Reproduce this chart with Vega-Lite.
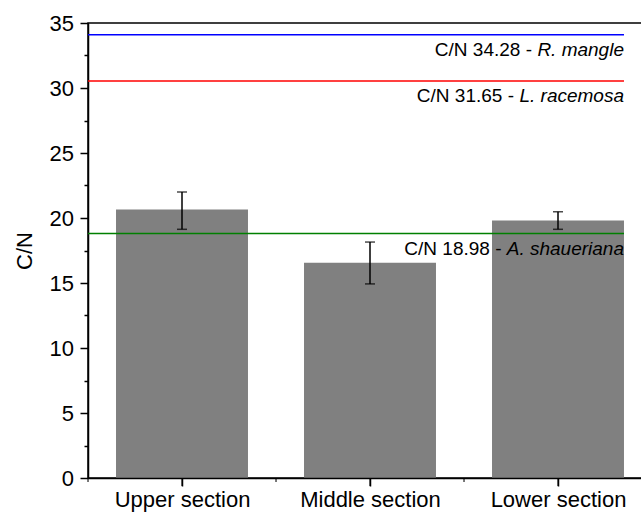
{
  "$schema": "https://vega.github.io/schema/vega-lite/v6.json",
  "width": 564,
  "height": 455,
  "autosize": {"type": "none"},
  "padding": {"left": 88, "top": 23, "right": -11, "bottom": 38},
  "background": "white",
  "view": {"stroke": "black", "strokeWidth": 1.5},
  "config": {
    "font": "Liberation Sans",
    "axis": {
      "domainColor": "black", "tickColor": "black", "labelColor": "black", "titleColor": "black",
      "domainWidth": 1.5, "tickWidth": 1.5, "grid": false,
      "labelFont": "Liberation Sans", "titleFont": "Liberation Sans",
      "labelFontSize": 22, "titleFontSize": 22, "titleFontWeight": "normal"
    }
  },
  "datasets": {
    "sections": [
      {"section": "Upper section", "cn": 20.65, "lo": 19.13, "hi": 22.0},
      {"section": "Middle section", "cn": 16.55, "lo": 14.93, "hi": 18.15},
      {"section": "Lower section", "cn": 19.8, "lo": 19.13, "hi": 20.48}
    ],
    "refs": [
      {"species": "R. mangle", "label": "C/N 34.28 -", "level": 34.1},
      {"species": "L. racemosa", "label": "C/N 31.65 -", "level": 30.54},
      {"species": "A. shaueriana", "label": "C/N 18.98 -", "level": 18.8}
    ]
  },
  "resolve": {"axis": {"x": "independent", "y": "independent"}},
  "layer": [
    {
      "data": {"name": "sections"},
      "mark": {"type": "bar", "color": "#808080"},
      "encoding": {
        "x": {
          "field": "section", "type": "nominal",
          "scale": {"domain": ["Upper section", "Middle section", "Lower section"], "paddingInner": 0.298, "paddingOuter": 0.149},
          "axis": {"orient": "bottom", "title": null, "labelAngle": 0, "ticks": true, "tickSize": 8, "tickOffset": 0, "tickRound": false, "labelPadding": 3, "domain": true, "zindex": 2}
        },
        "y": {
          "field": "cn", "type": "quantitative",
          "scale": {"domain": [0, 35], "nice": false},
          "axis": {
            "orient": "left",
            "title": "C/N",
            "values": [0, 5, 10, 15, 20, 25, 30, 35],
            "tickSize": 8,
            "labelPadding": 6.5,
            "titlePadding": 13
          }
        }
      }
    },
    {
      "data": {"name": "sections"},
      "mark": {"type": "rule", "color": "black", "strokeWidth": 1.5},
      "encoding": {
        "x": {"field": "section", "type": "nominal", "axis": null},
        "y": {"field": "lo", "type": "quantitative", "axis": {"orient": "left", "title": null, "labels": false, "domain": false, "values": [2.5, 7.5, 12.5, 17.5, 22.5, 27.5, 32.5], "tickSize": 4}},
        "y2": {"field": "hi"}
      }
    },
    {
      "data": {"name": "sections"},
      "mark": {"type": "tick", "orient": "vertical", "color": "black", "size": 8, "thickness": 1.5, "yOffset": 4, "clip": false},
      "encoding": {
        "x": {"field": "section", "type": "nominal", "axis": null},
        "y": {"datum": 0, "type": "quantitative", "axis": null}
      }
    },
    {
      "data": {"name": "sections"},
      "mark": {"type": "tick", "orient": "vertical", "color": "black", "size": 4, "thickness": 1.5, "yOffset": 2, "clip": false},
      "encoding": {
        "x": {"field": "section", "type": "nominal", "bandPosition": -0.2121, "axis": null},
        "y": {"datum": 0, "type": "quantitative", "axis": null}
      }
    },
    {
      "data": {"name": "sections"},
      "mark": {"type": "tick", "color": "black", "size": 10, "thickness": 1.5},
      "encoding": {
        "x": {"field": "section", "type": "nominal", "axis": null},
        "y": {"field": "hi", "type": "quantitative", "axis": null}
      }
    },
    {
      "data": {"name": "sections"},
      "mark": {"type": "tick", "color": "black", "size": 10, "thickness": 1.5},
      "encoding": {
        "x": {"field": "section", "type": "nominal", "axis": null},
        "y": {"field": "lo", "type": "quantitative", "axis": null}
      }
    },
    {
      "data": {"name": "refs"},
      "mark": {"type": "rule", "strokeWidth": 1.5},
      "encoding": {
        "x": {"datum": "Upper section", "bandPosition": -0.2121, "axis": null},
        "x2": {"datum": "Lower section", "bandPosition": 1},
        "y": {"field": "level", "type": "quantitative", "axis": null},
        "color": {"field": "species", "type": "nominal", "scale": {"domain": ["R. mangle", "L. racemosa", "A. shaueriana"], "range": ["#0000FF", "#FF0000", "#008000"]}, "legend": null}
      }
    },
    {
      "data": {"name": "refs"},
      "mark": {"type": "text", "align": "right", "baseline": "alphabetic", "dy": 21, "fontSize": 19, "fontStyle": "italic", "color": "black", "font": "Liberation Sans"},
      "encoding": {
        "x": {"datum": "Lower section", "bandPosition": 1, "axis": null},
        "y": {"field": "level", "type": "quantitative", "axis": null},
        "text": {"field": "species"}
      }
    },
    {
      "data": {"name": "refs"},
      "transform": [{"filter": "datum.species === 'R. mangle'"}],
      "mark": {"type": "text", "align": "right", "baseline": "alphabetic", "dy": 21, "dx": -92, "fontSize": 19, "color": "black", "font": "Liberation Sans"},
      "encoding": {
        "x": {"datum": "Lower section", "bandPosition": 1, "axis": null},
        "y": {"field": "level", "type": "quantitative", "axis": null},
        "text": {"field": "label"}
      }
    },
    {
      "data": {"name": "refs"},
      "transform": [{"filter": "datum.species === 'L. racemosa'"}],
      "mark": {"type": "text", "align": "right", "baseline": "alphabetic", "dy": 21, "dx": -110, "fontSize": 19, "color": "black", "font": "Liberation Sans"},
      "encoding": {
        "x": {"datum": "Lower section", "bandPosition": 1, "axis": null},
        "y": {"field": "level", "type": "quantitative", "axis": null},
        "text": {"field": "label"}
      }
    },
    {
      "data": {"name": "refs"},
      "transform": [{"filter": "datum.species === 'A. shaueriana'"}],
      "mark": {"type": "text", "align": "right", "baseline": "alphabetic", "dy": 21, "dx": -122.5, "fontSize": 19, "color": "black", "font": "Liberation Sans"},
      "encoding": {
        "x": {"datum": "Lower section", "bandPosition": 1, "axis": null},
        "y": {"field": "level", "type": "quantitative", "axis": null},
        "text": {"field": "label"}
      }
    }
  ]
}
